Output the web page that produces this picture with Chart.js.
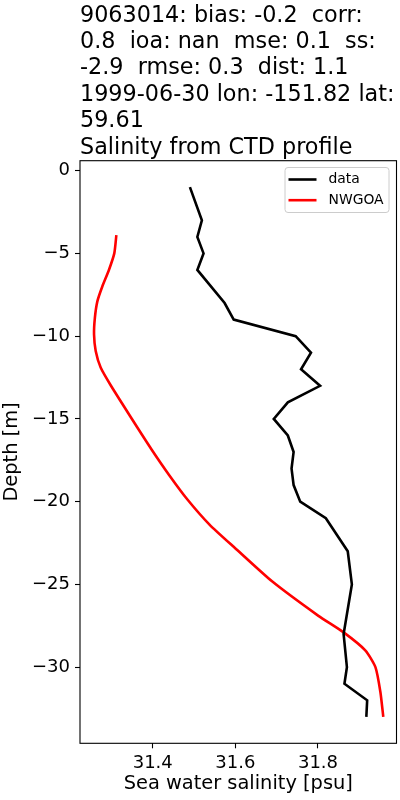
<!DOCTYPE html>
<html>
<head>
<meta charset="utf-8">
<script src="https://cdn.jsdelivr.net/npm/chart.js@4"></script>
<style>
  html, body { margin: 0; padding: 0; background: #fff; }
  #wrap { width: 400px; height: 800px; }
</style>
</head>
<body>
<div id="wrap"><canvas id="c" width="400" height="800"></canvas></div>
<script>
// ---- data ----
const titleLines = [
  "9063014: bias: -0.2  corr:",
  "0.8  ioa: nan  mse: 0.1  ss:",
  "-2.9  rmse: 0.3  dist: 1.1",
  "1999-06-30 lon: -151.82 lat:",
  "59.61",
  "Salinity from CTD profile"
];
const xLabel = "Sea water salinity [psu]";
const yLabel = "Depth [m]";
const xTicks = [31.4, 31.6, 31.8];
const yTicks = [-30, -25, -20, -15, -10, -5, 0];

const dataLabel = "data";
const dataDepth = [-1, -3, -4, -5, -6, -8, -9, -10, -11, -12, -13, -14, -15, -16, -17, -18, -19, -20, -21, -23, -25, -28, -30, -31, -32, -33];
const dataSal   = [31.490, 31.519, 31.508, 31.523, 31.508, 31.574, 31.596, 31.746, 31.783, 31.759, 31.805, 31.727, 31.693, 31.727, 31.741, 31.736, 31.741, 31.757, 31.819, 31.872, 31.882, 31.862, 31.870, 31.864, 31.919, 31.917];

const modelLabel = "NWGOA";
const modelDepth = [-3.9, -5.0, -6.0, -7.0, -7.9, -8.9, -9.9, -10.9, -11.9, -13.0, -14.9, -16.8, -18.4, -19.9, -21.4, -22.8, -24.8, -26.9, -27.9, -29.0, -30.0, -31.5, -33.0];
const modelSal   = [31.312, 31.307, 31.294, 31.278, 31.266, 31.260, 31.258, 31.262, 31.274, 31.299, 31.347, 31.396, 31.440, 31.485, 31.538, 31.599, 31.688, 31.801, 31.862, 31.915, 31.939, 31.951, 31.958];

const xMin = 31.224, xMax = 31.990;
const yMin = -34.6, yMax = 0.6;

// ---- build ----
const FONT = "'DejaVu Sans', sans-serif";
const toPts = (xs, ys) => xs.map((x, i) => ({ x: x, y: ys[i] }));
const fmtMinus = v => String(v).replace('-', '\u2212');

const framePlugin = {
  id: 'frameTitleLegend',
  afterDraw(chart) {
    const { ctx, chartArea: a } = chart;
    ctx.save();
    // frame
    ctx.strokeStyle = '#000';
    ctx.lineWidth = 1.1;
    ctx.strokeRect(a.left, a.top, a.right - a.left, a.bottom - a.top);
    // title
    ctx.fillStyle = '#000';
    ctx.font = "22.3px " + FONT;
    ctx.textAlign = 'left';
    ctx.textBaseline = 'alphabetic';
    titleLines.forEach((t, i) => ctx.fillText(t, a.left, 21.5 + i * 26.4));
    // legend
    const lx = 285, ly = 167.5, lw = 104, lh = 45;
    ctx.beginPath();
    if (ctx.roundRect) ctx.roundRect(lx, ly, lw, lh, 3); else ctx.rect(lx, ly, lw, lh);
    ctx.fillStyle = 'rgba(255,255,255,0.8)';
    ctx.fill();
    ctx.strokeStyle = '#cccccc';
    ctx.lineWidth = 1;
    ctx.stroke();
    ctx.font = "13.9px " + FONT;
    ctx.textBaseline = 'middle';
    chart.data.datasets.forEach((ds, i) => {
      const y = 179.5 + i * 20.7;
      ctx.beginPath();
      ctx.strokeStyle = ds.borderColor;
      ctx.lineWidth = 2.6;
      ctx.moveTo(288.5, y);
      ctx.lineTo(316.5, y);
      ctx.stroke();
      ctx.fillStyle = '#000';
      ctx.fillText(ds.label, 328.5, y);
    });
    ctx.restore();
  }
};

new Chart(document.getElementById('c'), {
  type: 'scatter',
  data: {
    datasets: [
      { label: dataLabel, data: toPts(dataSal, dataDepth), showLine: true, borderColor: '#000000', backgroundColor: '#000000', borderWidth: 2.6, pointRadius: 0, tension: 0 },
      { label: modelLabel, data: toPts(modelSal, modelDepth), showLine: true, borderColor: '#ff0000', backgroundColor: '#ff0000', borderWidth: 2.6, pointRadius: 0, tension: 0.2 }
    ]
  },
  options: {
    responsive: false,
    animation: false,
    devicePixelRatio: 1,
    layout: { padding: { top: 160.7, right: 3.5, left: 0, bottom: 0 } },
    plugins: { legend: { display: false }, title: { display: false }, tooltip: { enabled: false } },
    scales: {
      x: {
        type: 'linear', min: xMin, max: xMax,
        afterBuildTicks: s => { s.ticks = xTicks.map(v => ({ value: v })); },
        afterFit: s => { s.height = 56.7; },
        grid: { display: true, drawOnChartArea: false, drawTicks: true, tickLength: 5, color: '#000', tickWidth: 1.1 },
        border: { display: false },
        ticks: { color: '#000', font: { family: FONT, size: 18 }, padding: 4, maxRotation: 0, autoSkip: false, callback: v => v.toFixed(1) },
        title: { display: true, text: xLabel, color: '#000', font: { family: FONT, size: 19.4 }, padding: { top: 0, bottom: 4 } }
      },
      y: {
        type: 'linear', min: yMin, max: yMax,
        afterBuildTicks: s => { s.ticks = yTicks.map(v => ({ value: v })); },
        afterFit: s => { s.width = 80; },
        grid: { display: true, drawOnChartArea: false, drawTicks: true, tickLength: 5, color: '#000', tickWidth: 1.1 },
        border: { display: false },
        ticks: { color: '#000', font: { family: FONT, size: 18 }, padding: 5, autoSkip: false, callback: v => fmtMinus(v) },
        title: { display: true, text: yLabel, color: '#000', font: { family: FONT, size: 19.4 }, padding: { top: 0, bottom: 0 } }
      }
    }
  },
  plugins: [framePlugin]
});
</script>
</body>
</html>
